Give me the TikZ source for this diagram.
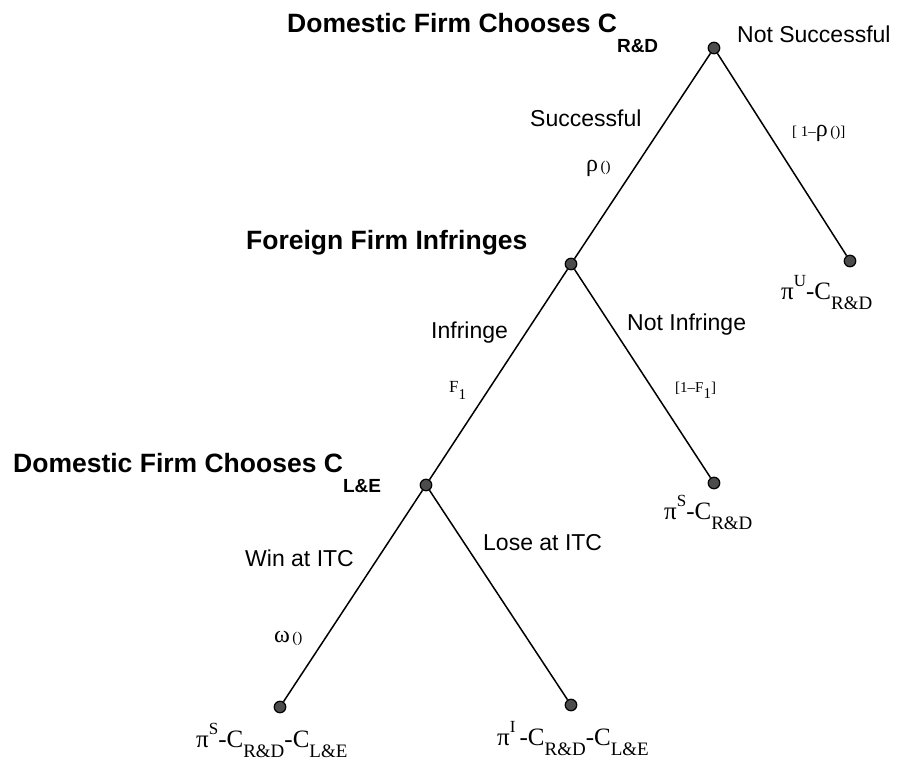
\documentclass[tikz,border=0pt]{standalone}
\usepackage{fontspec}
\newfontfamily\hvfont{Liberation Sans}
\newfontfamily\tmfont{Liberation Serif}
\newcommand\lowsub[1]{\raisebox{-0.42em}{\fontsize{19}{20}\selectfont #1}}
\newcommand\highsup[1]{\raisebox{0.5em}{\fontsize{17}{18}\selectfont #1}}
\newcommand\headsub[1]{\raisebox{-20pt}{\fontsize{19}{20}\selectfont #1}}
\tikzset{
  dot/.style={circle, fill=black!70, draw=black, line width=1.2pt, inner sep=0pt, minimum size=11.5pt},
  branch/.style={line width=1.5pt},
  lbl/.style={font=\hvfont\fontsize{23}{26}\selectfont, inner sep=0pt, anchor=base west},
  head/.style={font=\hvfont\bfseries\fontsize{26.5}{30}\selectfont, inner sep=0pt, anchor=base west},
  pay/.style={font=\tmfont\fontsize{25}{28}\selectfont, inner sep=0pt, anchor=base west},
  prob/.style={font=\tmfont\fontsize{15}{16}\selectfont, inner sep=0pt, anchor=base west}
}
\begin{document}
\begin{tikzpicture}[x=1pt,y=-1pt]
\useasboundingbox (0,0) rectangle (906,763);
% decision nodes
\node[dot] (root) at (714,48) {};
\node[dot] (ff) at (571,264) {};
\node[dot] (le) at (426,485) {};
% leaves
\node[dot] (lu) at (850,261) {};
\node[dot] (ln) at (714,483) {};
\node[dot] (lw) at (280,707) {};
\node[dot] (ll) at (571,705) {};
% branches
\draw[branch] (root) -- (ff);
\draw[branch] (root) -- (lu);
\draw[branch] (ff) -- (le);
\draw[branch] (ff) -- (ln);
\draw[branch] (le) -- (lw);
\draw[branch] (le) -- (ll);
% headings
\node[head] (h1) at (287,32) {Domestic Firm Chooses C\headsub{R\&D}};
\node[head] (h2) at (246,249) {Foreign Firm Infringes};
\node[head] (h3) at (13,472) {Domestic Firm Chooses C\headsub{L\&E}};
% branch labels
\node[lbl] (t1) at (737,42) {Not Successful};
\node[lbl] (t2) at (530,126) {Successful};
\node[lbl] (t3) at (431,338) {Infringe};
\node[lbl] (t4) at (627,330) {Not Infringe};
\node[lbl] (t5) at (245,566) {Win at ITC};
\node[lbl] (t6) at (483,550) {Lose at ITC};
% probabilities
\node[prob] (p1) at (586,171) {{\fontsize{24}{24}\selectfont ρ}\,()};
\node[prob] (p2) at (792,136) {[ 1–{\fontsize{24}{24}\selectfont ρ}\,()]};
\node[prob] (p3) at (449,392) {{\fontsize{17}{18}\selectfont F}\raisebox{-7pt}{1}};
\node[prob] (p4) at (675,392) {[1–F\raisebox{-6pt}{1}]};
\node[prob] (p5) at (274,642) {{\fontsize{24}{24}\selectfont ω}\,()};
% payoffs
\node[pay] (q1) at (781,299) {π\highsup{U}-C\lowsub{R\&D}};
\node[pay] (q2) at (664,519) {π\highsup{S}-C\lowsub{R\&D}};
\node[pay] (q3) at (196,747) {π\highsup{S}-C\lowsub{R\&D}-C\lowsub{L\&E}};
\node[pay] (q4) at (497,745) {π\highsup{I}\,-C\lowsub{R\&D}-C\lowsub{L\&E}};
\end{tikzpicture}
\end{document}
